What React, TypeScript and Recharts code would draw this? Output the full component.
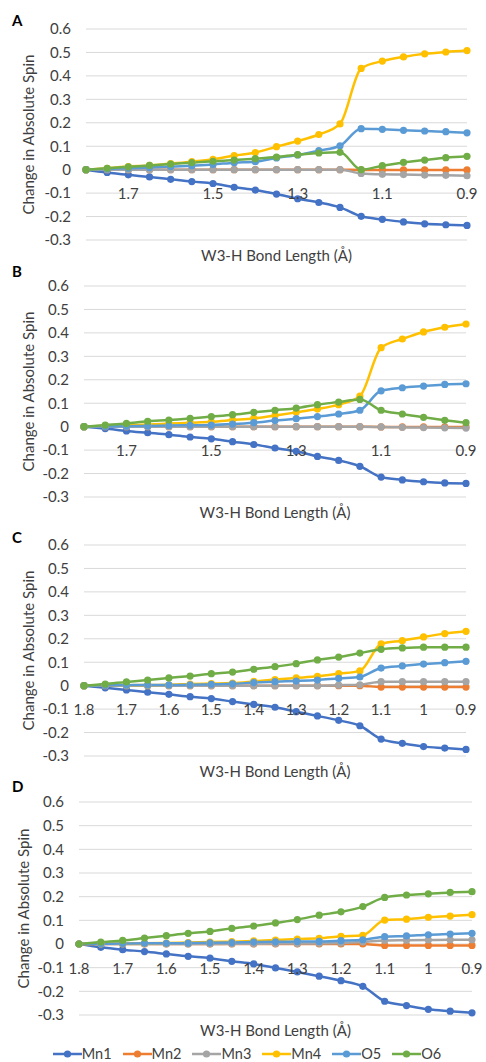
import React from "react";
import { LineChart, Line, XAxis, YAxis, CartesianGrid, Legend, Label } from "recharts";

// bond length (Å), read right-to-left on the chart
const bondLengths = [1.8, 1.75, 1.7, 1.65, 1.6, 1.55, 1.5, 1.45, 1.4, 1.35, 1.3, 1.25, 1.2, 1.15, 1.1, 1.05, 1.0, 0.95, 0.9];

const seriesNames = ["Mn1", "Mn2", "Mn3", "Mn4", "O5", "O6"];
const seriesColors = ["#4472C4", "#ED7D31", "#A5A5A5", "#FFC000", "#5B9BD5", "#70AD47"];

const yTicks = [-0.3, -0.2, -0.1, 0, 0.1, 0.2, 0.3, 0.4, 0.5, 0.6];
const xTicksSparse = [1.7, 1.5, 1.3, 1.1, 0.9];
const xTicksFull = [1.8, 1.7, 1.6, 1.5, 1.4, 1.3, 1.2, 1.1, 1.0, 0.9];

// panel A
const aMn1 = [0, -0.012, -0.022, -0.031, -0.041, -0.051, -0.059, -0.075, -0.087, -0.104, -0.124, -0.14, -0.161, -0.199, -0.212, -0.223, -0.231, -0.235, -0.238];
const aMn2 = [0, 0, 0, 0, 0, 0, 0, 0, 0, 0, 0, 0, 0, -0.001, -0.001, -0.001, -0.001, -0.001, -0.001];
const aMn3 = [0, 0, 0, 0, 0, 0, 0, 0, 0, 0, 0, 0, 0, -0.016, -0.02, -0.021, -0.023, -0.024, -0.026];
const aMn4 = [0, 0.006, 0.013, 0.018, 0.026, 0.034, 0.044, 0.06, 0.073, 0.098, 0.122, 0.15, 0.195, 0.432, 0.463, 0.481, 0.494, 0.502, 0.508];
const aO5 = [0, 0.003, 0.006, 0.009, 0.013, 0.017, 0.022, 0.03, 0.034, 0.05, 0.063, 0.081, 0.102, 0.175, 0.172, 0.168, 0.165, 0.162, 0.157];
const aO6 = [0, 0.006, 0.012, 0.018, 0.024, 0.03, 0.036, 0.041, 0.047, 0.054, 0.064, 0.071, 0.074, 0.0, 0.017, 0.031, 0.041, 0.051, 0.057];

// panel B
const bMn1 = [0, -0.008, -0.018, -0.026, -0.034, -0.044, -0.052, -0.064, -0.076, -0.091, -0.105, -0.127, -0.144, -0.169, -0.215, -0.227, -0.235, -0.24, -0.242];
const bMn2 = [0, 0, 0, 0, 0, 0, 0, 0, 0, 0, 0, 0, 0, 0, -0.001, -0.001, -0.001, -0.001, -0.001];
const bMn3 = [0, 0, 0, 0, 0, 0, 0, 0, 0, 0, 0, 0, 0, 0, -0.001, -0.003, -0.004, -0.005, -0.006];
const bMn4 = [0, 0.003, 0.006, 0.009, 0.013, 0.017, 0.021, 0.028, 0.035, 0.048, 0.061, 0.075, 0.094, 0.13, 0.337, 0.374, 0.404, 0.424, 0.438];
const bO5 = [0, 0.001, 0.002, 0.003, 0.005, 0.006, 0.007, 0.011, 0.017, 0.026, 0.034, 0.043, 0.054, 0.07, 0.153, 0.166, 0.173, 0.18, 0.183];
const bO6 = [0, 0.007, 0.014, 0.023, 0.028, 0.035, 0.043, 0.051, 0.061, 0.07, 0.079, 0.094, 0.105, 0.116, 0.07, 0.054, 0.04, 0.027, 0.017];

// panel C
const cMn1 = [0, -0.009, -0.018, -0.028, -0.037, -0.047, -0.055, -0.068, -0.08, -0.092, -0.111, -0.129, -0.148, -0.171, -0.228, -0.246, -0.26, -0.266, -0.272];
const cMn2 = [0, 0, 0, 0, 0, 0, 0, 0, 0, 0, 0, 0, 0, 0, -0.006, -0.006, -0.006, -0.006, -0.006];
const cMn3 = [0, 0, 0, 0, 0, 0, 0, 0, 0, 0, 0, 0, 0.002, 0.004, 0.017, 0.017, 0.017, 0.017, 0.017];
const cMn4 = [0, 0.001, 0.002, 0.003, 0.004, 0.007, 0.009, 0.011, 0.018, 0.026, 0.033, 0.04, 0.051, 0.063, 0.178, 0.192, 0.208, 0.222, 0.232];
const cO5 = [0, 0.001, 0.002, 0.003, 0.003, 0.004, 0.006, 0.008, 0.013, 0.017, 0.02, 0.024, 0.031, 0.037, 0.075, 0.084, 0.092, 0.098, 0.104];
const cO6 = [0, 0.007, 0.016, 0.024, 0.033, 0.041, 0.051, 0.058, 0.07, 0.081, 0.094, 0.11, 0.122, 0.139, 0.155, 0.161, 0.164, 0.164, 0.164];

// panel D
const dMn1 = [0, -0.014, -0.024, -0.032, -0.042, -0.052, -0.06, -0.073, -0.084, -0.101, -0.118, -0.136, -0.155, -0.179, -0.242, -0.26, -0.276, -0.284, -0.291];
const dMn2 = [0, 0, 0, 0, 0, 0, 0, 0, 0, 0, 0, 0, 0, 0, -0.006, -0.006, -0.006, -0.006, -0.006];
const dMn3 = [0, 0, 0, 0, 0, 0, 0, 0.001, 0.001, 0.002, 0.002, 0.003, 0.004, 0.008, 0.015, 0.016, 0.017, 0.018, 0.018];
const dMn4 = [0, 0.001, 0.002, 0.003, 0.004, 0.006, 0.008, 0.01, 0.013, 0.017, 0.021, 0.024, 0.032, 0.037, 0.101, 0.105, 0.113, 0.118, 0.124];
const dO5 = [0, 0.001, 0.002, 0.003, 0.003, 0.004, 0.005, 0.006, 0.008, 0.009, 0.011, 0.011, 0.014, 0.018, 0.031, 0.034, 0.039, 0.042, 0.045];
const dO6 = [0, 0.008, 0.015, 0.025, 0.035, 0.045, 0.053, 0.066, 0.076, 0.089, 0.103, 0.122, 0.136, 0.158, 0.197, 0.207, 0.212, 0.218, 0.221];

const FONT = "Lato, 'Liberation Sans', sans-serif";
const TEXT = "#404040";
const X_AXIS_H = 21;
const LEGEND_H = 26;

const buildRows = (cols: number[][]) =>
  bondLengths.map((x, i) => {
    const row: Record<string, number> = { x };
    seriesNames.forEach((n, k) => (row[n] = cols[k][i]));
    return row;
  });

const panels = [
  { letter: "A", letterTop: 13, top: 0, height: 266, plotTop: 29, plotBottom: 240, plotLeft: 86, plotRight: 467, titleX: 28, xTicks: xTicksSparse, data: buildRows([aMn1, aMn2, aMn3, aMn4, aO5, aO6]), legend: false },
  { letter: "B", letterTop: 264, top: 262, height: 266, plotTop: 286, plotBottom: 497, plotLeft: 84, plotRight: 466, titleX: 28, xTicks: xTicksSparse, data: buildRows([bMn1, bMn2, bMn3, bMn4, bO5, bO6]), legend: false },
  { letter: "C", letterTop: 530, top: 527, height: 266, plotTop: 545, plotBottom: 756, plotLeft: 84, plotRight: 466, titleX: 28, xTicks: xTicksFull, data: buildRows([cMn1, cMn2, cMn3, cMn4, cO5, cO6]), legend: false },
  { letter: "D", letterTop: 779, top: 790, height: 272, plotTop: 802, plotBottom: 1015, plotLeft: 79, plotRight: 472, titleX: 23, xTicks: xTicksFull, data: buildRows([dMn1, dMn2, dMn3, dMn4, dO5, dO6]), legend: true },
];

const fmt = (v: number) => String(Math.round(v * 100) / 100);

function LegendContent() {
  return (
    <div style={{ width: 486, height: LEGEND_H, display: "flex", justifyContent: "center", alignItems: "flex-end", fontFamily: FONT, fontSize: 14.5, color: TEXT, paddingLeft: 8, boxSizing: "border-box" }}>
      {seriesNames.map((n, i) => (
        <div key={n} style={{ display: "flex", alignItems: "center", marginLeft: i === 0 ? 0 : 11, lineHeight: "17px" }}>
          <svg width={29} height={10} style={{ display: "block" }}>
            <line x1={0} y1={5} x2={29} y2={5} stroke={seriesColors[i]} strokeWidth={2.5} />
            <circle cx={14.5} cy={5} r={3.6} fill={seriesColors[i]} />
          </svg>
          <span>{n}</span>
        </div>
      ))}
    </div>
  );
}

function Panel(p: (typeof panels)[number]) {
  const plotH = p.plotBottom - p.plotTop;
  // Excel draws the category labels next to the zero line, centred on the -0.1 grid line
  const labelShift = (2 / 9) * plotH;
  const margin = {
    top: p.plotTop - p.top,
    right: 486 - p.plotRight,
    left: 0,
    bottom: p.height - (p.plotBottom - p.top) - X_AXIS_H - (p.legend ? LEGEND_H : 0),
  };

  const XTick = (props: any) => (
    <text x={props.x} y={props.y - labelShift} textAnchor="middle" dominantBaseline="central" fontSize={15} fontFamily={FONT} fill={TEXT}>
      {fmt(props.payload.value)}
    </text>
  );

  return (
    <div style={{ position: "absolute", left: 0, top: p.top, width: 486, height: p.height }}>
      <LineChart width={486} height={p.height} data={p.data} margin={margin}>
        <CartesianGrid vertical={false} stroke="#d9d9d9" strokeWidth={1} />
        <XAxis
          dataKey="x"
          type="number"
          domain={[0.9, 1.8]}
          reversed
          ticks={p.xTicks}
          interval={0}
          height={X_AXIS_H}
          axisLine={false}
          tickLine={false}
          tickSize={0}
          tickMargin={0}
          tick={XTick}
        >
          <Label value="W3-H Bond Length (Å)" position="insideBottom" offset={0} style={{ fontFamily: FONT, fontSize: 15, fill: TEXT }} />
        </XAxis>
        <YAxis
          type="number"
          domain={[-0.3, 0.6]}
          ticks={yTicks}
          interval={0}
          width={p.plotLeft}
          axisLine={false}
          tickLine={false}
          tickSize={0}
          tickMargin={15}
          tickFormatter={fmt}
          tick={{ fontFamily: FONT, fontSize: 15, fill: TEXT }}
        >
          <Label
            content={(lp: any) => {
              const vb = lp.viewBox;
              const cy = vb.y + vb.height / 2;
              return (
                <text x={p.titleX} y={cy} transform={`rotate(-90 ${p.titleX} ${cy})`} textAnchor="middle" dominantBaseline="central" fontFamily={FONT} fontSize={15} fill={TEXT}>
                  Change in Absolute Spin
                </text>
              );
            }}
          />
        </YAxis>
        {p.legend && <Legend verticalAlign="bottom" height={LEGEND_H} content={() => <LegendContent />} />}
        {seriesNames.map((n, i) => (
          <Line
            key={n}
            type="monotone"
            dataKey={n}
            stroke={seriesColors[i]}
            strokeWidth={2.5}
            dot={{ r: 3.6, fill: seriesColors[i], stroke: seriesColors[i], strokeWidth: 0 }}
            isAnimationActive={false}
          />
        ))}
      </LineChart>
    </div>
  );
}

export default function App() {
  return (
    <div style={{ position: "absolute", left: 0, top: 0, width: 486, height: 1062, background: "#fff", fontFamily: FONT }}>
      {panels.map((p) => (
        <React.Fragment key={p.letter}>
          <Panel {...p} />
          <div style={{ position: "absolute", left: 12, top: p.letterTop, fontSize: 15, fontWeight: 700, color: "#000", lineHeight: "15px" }}>
            {p.letter}
          </div>
        </React.Fragment>
      ))}
    </div>
  );
}
